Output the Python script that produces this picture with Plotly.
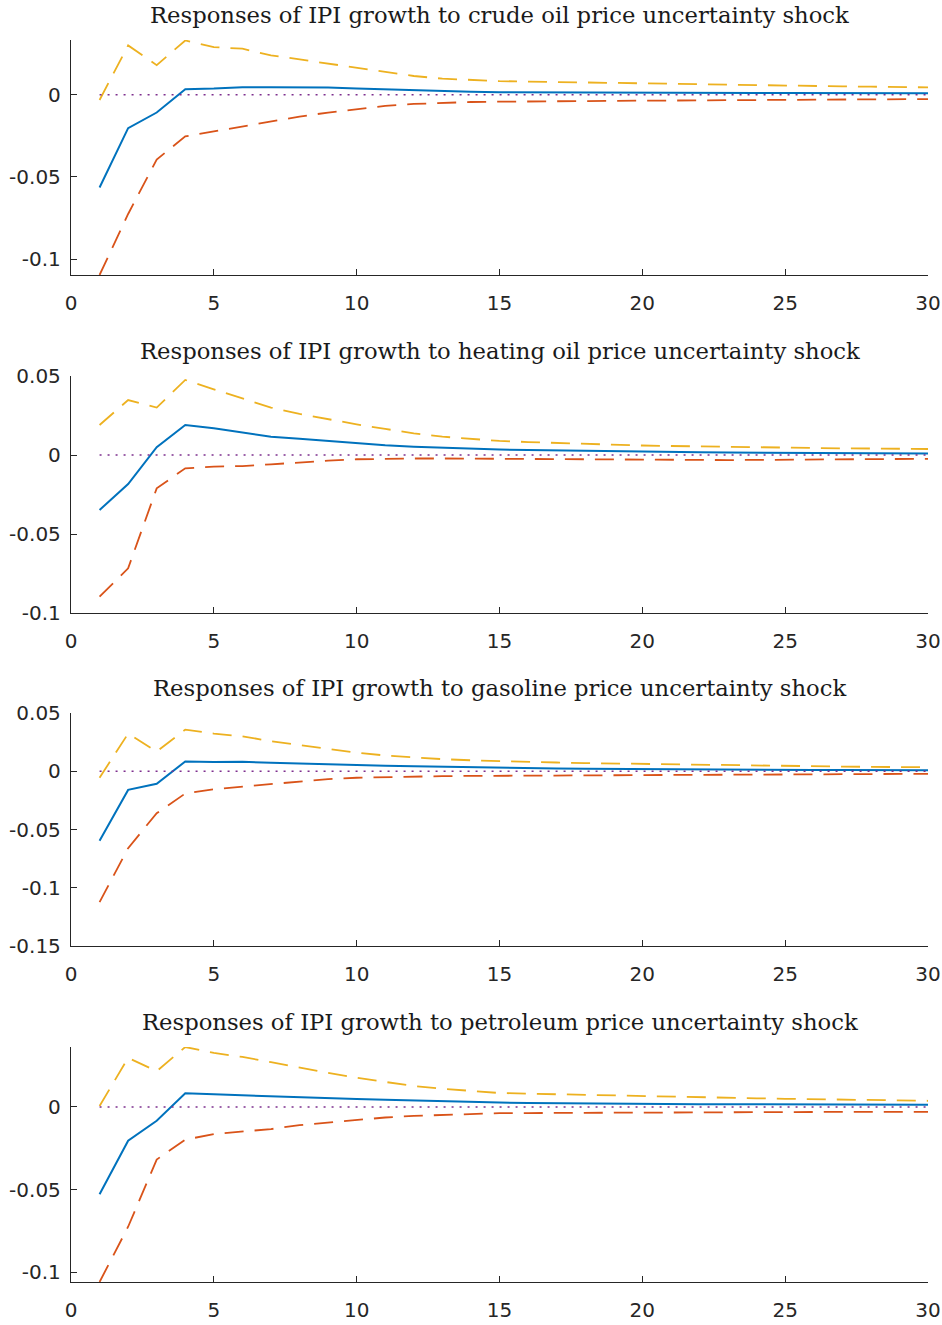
import plotly.graph_objects as go

horizon = list(range(1, 31))

titles = [
    "Responses of IPI growth to crude oil price uncertainty shock",
    "Responses of IPI growth to heating oil price uncertainty shock",
    "Responses of IPI growth to gasoline price uncertainty shock",
    "Responses of IPI growth to petroleum price uncertainty shock",
]

# crude oil
crude_irf = [-0.0564, -0.0203, -0.0108, 0.0034, 0.0038, 0.0046, 0.0046, 0.0046, 0.0044, 0.0038,
             0.0032, 0.0027, 0.0022, 0.0018, 0.0015, 0.0014, 0.0013, 0.0013, 0.0012, 0.0012,
             0.0011, 0.0011, 0.0011, 0.0010, 0.0010, 0.0010, 0.0009, 0.0009, 0.0009, 0.0009]
crude_upper = [-0.0032, 0.0300, 0.0180, 0.0330, 0.0290, 0.0280, 0.0240, 0.0215, 0.0190, 0.0163,
               0.0139, 0.0114, 0.0098, 0.0090, 0.0083, 0.0080, 0.0077, 0.0074, 0.0071, 0.0068,
               0.0066, 0.0063, 0.0061, 0.0058, 0.0056, 0.0054, 0.0051, 0.0049, 0.0047, 0.0045]
crude_lower = [-0.1096, -0.0725, -0.0394, -0.0253, -0.0223, -0.0193, -0.0163, -0.0133, -0.0108, -0.0086,
               -0.0068, -0.0056, -0.0048, -0.0044, -0.0042, -0.0040, -0.0039, -0.0038, -0.0037, -0.0036,
               -0.0035, -0.0034, -0.0033, -0.0032, -0.0031, -0.0030, -0.0029, -0.0028, -0.0027, -0.0026]

# heating oil
heating_irf = [-0.0348, -0.0184, 0.0049, 0.0190, 0.0169, 0.0141, 0.0116, 0.0103, 0.0089, 0.0074,
               0.0061, 0.0053, 0.0046, 0.0040, 0.0035, 0.0031, 0.0028, 0.0025, 0.0023, 0.0021,
               0.0019, 0.0017, 0.0016, 0.0015, 0.0014, 0.0013, 0.0012, 0.0011, 0.0011, 0.0010]
heating_upper = [0.0190, 0.0348, 0.0300, 0.0475, 0.0416, 0.0359, 0.0300, 0.0260, 0.0226, 0.0194,
                 0.0165, 0.0137, 0.0116, 0.0101, 0.0089, 0.0082, 0.0076, 0.0070, 0.0065, 0.0060,
                 0.0057, 0.0054, 0.0051, 0.0048, 0.0046, 0.0044, 0.0042, 0.0041, 0.0039, 0.0038]
heating_lower = [-0.0897, -0.0717, -0.0211, -0.0084, -0.0074, -0.0070, -0.0059, -0.0046, -0.0036, -0.0027,
                 -0.0023, -0.0022, -0.0022, -0.0023, -0.0025, -0.0027, -0.0029, -0.0031, -0.0032, -0.0033,
                 -0.0033, -0.0033, -0.0032, -0.0031, -0.0030, -0.0029, -0.0027, -0.0026, -0.0025, -0.0024]

# gasoline
gasoline_irf = [-0.0596, -0.0160, -0.0107, 0.0084, 0.0079, 0.0081, 0.0073, 0.0065, 0.0059, 0.0053,
                0.0047, 0.0042, 0.0037, 0.0032, 0.0027, 0.0025, 0.0023, 0.0021, 0.0019, 0.0017,
                0.0016, 0.0015, 0.0014, 0.0013, 0.0012, 0.0011, 0.0010, 0.0010, 0.0009, 0.0008]
gasoline_upper = [-0.0056, 0.0323, 0.0169, 0.0357, 0.0323, 0.0300, 0.0258, 0.0225, 0.0188, 0.0160,
                  0.0135, 0.0118, 0.0104, 0.0094, 0.0086, 0.0080, 0.0075, 0.0070, 0.0066, 0.0062,
                  0.0058, 0.0055, 0.0052, 0.0049, 0.0046, 0.0043, 0.0040, 0.0038, 0.0036, 0.0034]
gasoline_lower = [-0.1124, -0.0660, -0.0360, -0.0191, -0.0154, -0.0132, -0.0107, -0.0084, -0.0067, -0.0056,
                  -0.0050, -0.0045, -0.0042, -0.0040, -0.0038, -0.0037, -0.0036, -0.0035, -0.0034, -0.0033,
                  -0.0032, -0.0031, -0.0030, -0.0029, -0.0028, -0.0027, -0.0026, -0.0025, -0.0023, -0.0022]

# petroleum
petroleum_irf = [-0.0528, -0.0204, -0.0084, 0.0082, 0.0076, 0.0070, 0.0062, 0.0058, 0.0054, 0.0048,
                 0.0043, 0.0038, 0.0034, 0.0030, 0.0026, 0.0024, 0.0022, 0.0020, 0.0019, 0.0018,
                 0.0017, 0.0016, 0.0016, 0.0015, 0.0015, 0.0014, 0.0014, 0.0014, 0.0013, 0.0013]
petroleum_upper = [0.0006, 0.0296, 0.0216, 0.0362, 0.0326, 0.0302, 0.0270, 0.0236, 0.0206, 0.0176,
                   0.0150, 0.0126, 0.0110, 0.0096, 0.0084, 0.0080, 0.0076, 0.0072, 0.0068, 0.0064,
                   0.0061, 0.0058, 0.0055, 0.0052, 0.0049, 0.0046, 0.0043, 0.0041, 0.0039, 0.0037]
petroleum_lower = [-0.1058, -0.0724, -0.0318, -0.0198, -0.0164, -0.0150, -0.0134, -0.0110, -0.0094, -0.0078,
                   -0.0064, -0.0054, -0.0048, -0.0042, -0.0038, -0.0037, -0.0036, -0.0035, -0.0034, -0.0034,
                   -0.0033, -0.0033, -0.0032, -0.0032, -0.0031, -0.0031, -0.0030, -0.0030, -0.0030, -0.0030]

zero_line = [0.0] * 30

irfs = [crude_irf, heating_irf, gasoline_irf, petroleum_irf]
uppers = [crude_upper, heating_upper, gasoline_upper, petroleum_upper]
lowers = [crude_lower, heating_lower, gasoline_lower, petroleum_lower]

y_ranges = [[-0.1096, 0.0333], [-0.1, 0.05], [-0.15, 0.05], [-0.1058, 0.0362]]
y_tickvals = [[-0.1, -0.05, 0], [-0.1, -0.05, 0, 0.05], [-0.15, -0.1, -0.05, 0, 0.05], [-0.1, -0.05, 0]]
y_ticktext = [["-0.1", "-0.05", "0"], ["-0.1", "-0.05", "0", "0.05"],
              ["-0.15", "-0.1", "-0.05", "0", "0.05"], ["-0.1", "-0.05", "0"]]
x_tickvals = [0, 5, 10, 15, 20, 25, 30]
x_ticktext = ["0", "5", "10", "15", "20", "25", "30"]

W, H = 942, 1325
panel_px = [(40, 275), (376, 613), (713, 946), (1047, 1282)]
title_px = [15, 351, 688, 1022]
x0_px, x1_px = 71, 928

BLUE = "#0072BD"
ORANGE = "#D95319"
YELLOW = "#EDB120"
PURPLE = "#7E2F8E"
AXC = "#262626"

fig = go.Figure()
layout = dict(width=W, height=H, margin=dict(l=0, r=0, t=0, b=0, autoexpand=False),
              plot_bgcolor="white", paper_bgcolor="white", showlegend=False,
              font=dict(family="DejaVu Sans", size=20, color=AXC))
annotations = []
for i in range(4):
    xa = "x" if i == 0 else f"x{i+1}"
    ya = "y" if i == 0 else f"y{i+1}"
    top, bot = panel_px[i]
    fig.add_trace(go.Scatter(x=horizon, y=irfs[i], mode="lines", xaxis=xa, yaxis=ya,
                             line=dict(color=BLUE, width=2)))
    fig.add_trace(go.Scatter(x=horizon, y=lowers[i], mode="lines", xaxis=xa, yaxis=ya,
                             line=dict(color=ORANGE, width=1.8, dash="19px,11px")))
    fig.add_trace(go.Scatter(x=horizon, y=uppers[i], mode="lines", xaxis=xa, yaxis=ya,
                             line=dict(color=YELLOW, width=1.8, dash="19px,11px")))
    fig.add_trace(go.Scatter(x=horizon, y=zero_line, mode="lines", xaxis=xa, yaxis=ya,
                             line=dict(color=PURPLE, width=1.5, dash="2px,6px")))
    xkey = "xaxis" if i == 0 else f"xaxis{i+1}"
    ykey = "yaxis" if i == 0 else f"yaxis{i+1}"
    layout[xkey] = dict(domain=[x0_px / W, x1_px / W], anchor=ya, range=[0, 30],
                        tickvals=x_tickvals, ticktext=x_ticktext, ticks="inside", ticklen=6,
                        tickcolor=AXC, showline=True, linecolor=AXC, linewidth=1.3,
                        showgrid=False, zeroline=False, ticklabelstandoff=10, automargin=False,
                        tickfont=dict(family="DejaVu Sans", size=20, color=AXC))
    layout[ykey] = dict(domain=[1 - bot / H, 1 - top / H], anchor=xa, range=y_ranges[i],
                        tickvals=y_tickvals[i], ticktext=y_ticktext[i], ticks="inside", ticklen=6,
                        tickcolor=AXC, showline=True, linecolor=AXC, linewidth=1.3,
                        showgrid=False, zeroline=False, ticklabelstandoff=5, automargin=False,
                        tickfont=dict(family="DejaVu Sans", size=20, color=AXC))
    annotations.append(dict(text=titles[i], x=(x0_px + x1_px) / 2 / W, y=1 - title_px[i] / H,
                            xref="paper", yref="paper", xanchor="center", yanchor="middle",
                            showarrow=False, borderpad=0,
                            font=dict(family="DejaVu Serif", size=22.7, color="#1a1a1a")))
layout["annotations"] = annotations
fig.update_layout(**layout)
fig.write_html("out.html", config={"displayModeBar": False},
               post_script="document.body.style.margin='0';document.body.style.overflow='hidden';")
